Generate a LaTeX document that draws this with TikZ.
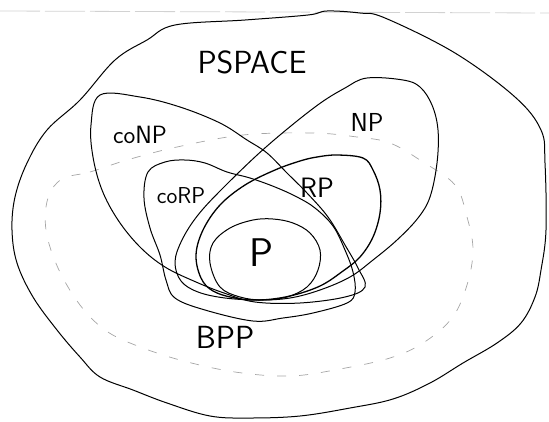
\documentclass[tikz,border=0pt]{standalone}
\usepackage{amsmath}
\usetikzlibrary{positioning,calc}

\begin{document}
\begin{tikzpicture}[x=1pt,y=-1pt,
		class/.style={line width=1pt,line join=round},
		lbl/.style={font=\sffamily,inner sep=0pt}]
		\useasboundingbox (0,0) rectangle (549,421);
		
		\draw[gray!35, line width=0.8pt, dash pattern=on 40pt off 5pt] (0,11) -- (549,13);
		
		% PSPACE
		\draw[class] plot[smooth cycle, tension=0.6] coordinates {(147,40) (175,25) (245,20) (308,15) (327,11) (360,13) (385,18) (455,53) (515,97) (541,130) (545,163) (546,230) (541,270) (535,297) (521,323) (497,343) (463,363) (430,383) (393,399) (350,408) (300,416) (250,418) (210,416) (167,403) (133,390) (100,377) (80,357) (57,330) (33,297) (17,263) (12,230) (15,197) (27,163) (47,130) (80,100) (115,60)};
		
		% BPP (dashed)
		\draw[gray!70, line width=0.7pt, dash pattern=on 9pt off 13pt] plot[smooth cycle, tension=0.6] coordinates {(62,179) (90,172) (127,160) (177,147) (243,135) (313,133) (357,137) (390,143) (423,162) (455,185) (467,217) (473,250) (467,285) (452,318) (423,343) (390,358) (340,369) (290,376) (235,372) (180,360) (135,345) (105,330) (80,305) (58,268) (46,230) (48,198)};
		
		% coNP
		\draw[class] plot[smooth cycle, tension=0.6] coordinates {(100,95) (140,97) (180,107) (220,123) (247,140) (267,153) (287,173) (307,193) (328,217) (345,245) (358,268) (365,287) (345,297) (300,303) (255,302) (224,293) (196,282) (165,267) (140,247) (118,220) (102,190) (93,157) (91,125)};
		
		% NP
		\draw[class] plot[smooth cycle, tension=0.6] coordinates {(367,78) (403,80) (420,87) (432,105) (438,130) (437,163) (430,197) (418,218) (397,240) (373,260) (350,277) (320,290) (290,298) (259,300) (225,298) (198,292) (181,281) (175,262) (182,240) (198,215) (224,187) (266,147) (315,107) (345,88)};
		
		% coRP
		\draw[class] plot[smooth cycle, tension=0.6] coordinates {(148,172) (165,162) (185,160) (205,163) (227,172) (250,178) (275,187) (297,197) (315,208) (333,226) (345,250) (353,272) (355,292) (347,303) (313,313) (283,318) (253,321) (205,310) (175,298) (166,280) (160,255) (150,228) (144,198)};
		
		% RP
		\draw[class, line width=1.3pt] plot[smooth cycle, tension=0.6] coordinates {(317,157) (337,155) (363,158) (373,170) (380,190) (380,213) (373,237) (360,257) (343,271) (320,286) (290,296) (260,300) (235,298) (213,291) (201,278) (196,255) (203,230) (220,205) (245,185) (275,170) (300,161)};
		
		% P
		\draw[class] plot[smooth cycle, tension=0.6] coordinates {(210,263) (213,243) (230,228) (253,220) (273,219) (293,223) (310,233) (320,250) (318,270) (307,287) (287,297) (263,300) (240,297) (220,287)};
		
		\node[lbl, font=\sffamily\fontsize{32}{32}\selectfont] (pspace) at (252,62) {PSPACE};
		\node[lbl, font=\sffamily\fontsize{25}{25}\selectfont] (conp) at (140,135) {coNP};
		\node[lbl, font=\sffamily\fontsize{26}{26}\selectfont] (np) at (367,122) {NP};
		\node[lbl, font=\sffamily\fontsize{23}{23}\selectfont] (corp) at (181,196) {coRP};
		\node[lbl, font=\sffamily\fontsize{28}{28}\selectfont] (rp) at (317,188) {RP};
		\node[lbl, font=\sffamily\fontsize{40}{40}\selectfont] (p) at (261,253) {P};
		\node[lbl, font=\sffamily\fontsize{32}{32}\selectfont] (bpp) at (225,337) {BPP};
		
	\end{tikzpicture}
\end{document}
